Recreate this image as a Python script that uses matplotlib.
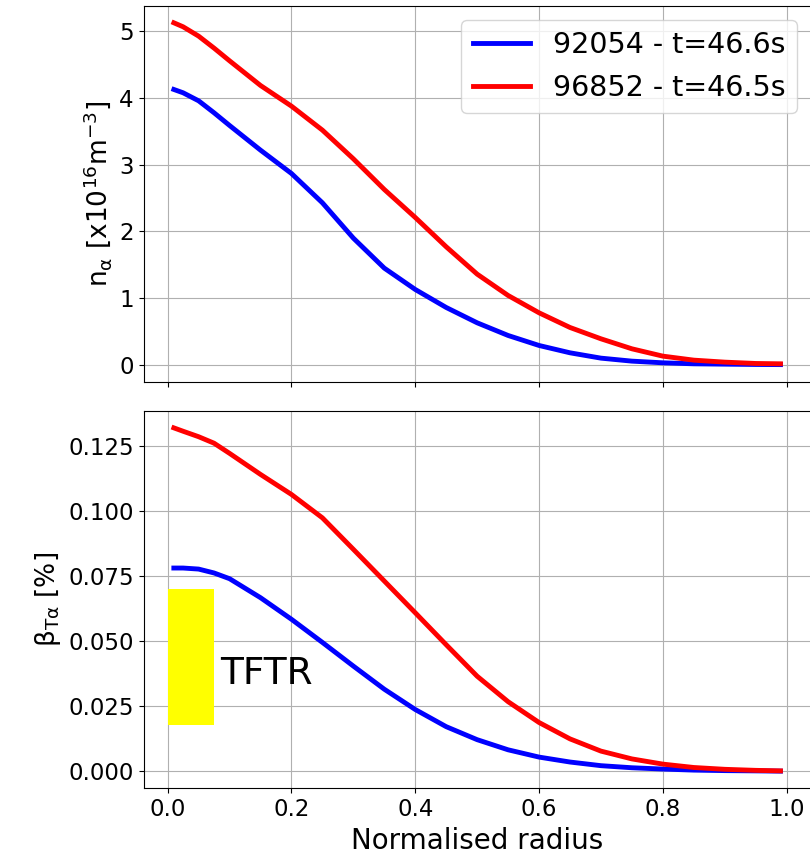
import matplotlib
matplotlib.use("Agg")
import matplotlib.pyplot as plt
from matplotlib.patches import Rectangle

# Normalised radius grid
radius = [0.01, 0.025, 0.05, 0.075, 0.1, 0.15, 0.2, 0.25, 0.3, 0.35, 0.4, 0.45,
          0.5, 0.55, 0.6, 0.65, 0.7, 0.75, 0.8, 0.85, 0.9, 0.95, 0.99]

# Alpha density [x10^16 m^-3]
n_alpha_92054 = [4.13, 4.08, 3.96, 3.78, 3.59, 3.22, 2.87, 2.43, 1.90, 1.45, 1.13, 0.86,
                 0.63, 0.44, 0.29, 0.18, 0.10, 0.055, 0.03, 0.015, 0.01, 0.005, 0.003]
n_alpha_96852 = [5.13, 5.07, 4.93, 4.75, 4.56, 4.19, 3.88, 3.52, 3.09, 2.63, 2.21, 1.77,
                 1.36, 1.04, 0.78, 0.56, 0.39, 0.24, 0.13, 0.07, 0.04, 0.02, 0.015]

# Toroidal alpha beta [%]
beta_92054 = [0.0782, 0.0782, 0.0778, 0.0763, 0.0741, 0.0668, 0.0585, 0.0496, 0.0405,
              0.0316, 0.0238, 0.0172, 0.0122, 0.0083, 0.0055, 0.0036, 0.0022, 0.0014,
              0.0009, 0.0005, 0.0003, 0.0002, 0.0001]
beta_96852 = [0.1321, 0.1308, 0.1287, 0.1262, 0.1223, 0.1142, 0.1065, 0.0975, 0.0854,
              0.0732, 0.0610, 0.0487, 0.0366, 0.0268, 0.0188, 0.0125, 0.0078, 0.0048,
              0.0028, 0.0015, 0.0008, 0.0004, 0.0002]

labels = ["92054 - t=46.6s", "96852 - t=46.5s"]
colors = ["blue", "red"]

# TFTR range
tftr_r = [0.0, 0.075]
tftr_beta = [0.018, 0.070]

beta_ticks = [0.0, 0.025, 0.05, 0.075, 0.1, 0.125]
r_ticks = [0.0, 0.2, 0.4, 0.6, 0.8, 1.0]

W, H = 810, 859
fig = plt.figure(figsize=(W / 100, H / 100), dpi=100)
left = 143.5 / W
width = 667.3 / W
ax1 = fig.add_axes([left, (H - 381.7) / H, width, 376.0 / H])
ax2 = fig.add_axes([left, (H - 788.3) / H, width, 377.6 / H], sharex=ax1)

ax1.plot(radius, n_alpha_92054, color=colors[0], lw=3.5, label=labels[0])
ax1.plot(radius, n_alpha_96852, color=colors[1], lw=3.5, label=labels[1])
ax2.plot(radius, beta_92054, color=colors[0], lw=3.5)
ax2.plot(radius, beta_96852, color=colors[1], lw=3.5)

rect = Rectangle((tftr_r[0], tftr_beta[0]), tftr_r[1] - tftr_r[0],
                 tftr_beta[1] - tftr_beta[0], facecolor="yellow", lw=0, zorder=3,
                 transform=ax2.transData)
ax2.add_artist(rect)
ax2.text(0.085, 0.0375, "TFTR", fontsize=27, va="center", ha="left")

for ax in (ax1, ax2):
    ax.grid(True)
    ax.tick_params(labelsize=16.5)

ax1.tick_params(labelbottom=False)
ax1.set_ylabel(r"n$_\mathregular{\alpha}$ [x10$^{16}$m$^{-3}$]", fontsize=19)
ax2.set_ylabel(r"$\mathregular{\beta_{T\alpha}}$ [%]", fontsize=19)
ax2.set_xlabel("Normalised radius", fontsize=20)
ax2.set_xticks(r_ticks)
ax2.set_yticks(beta_ticks)
ax2.set_yticklabels([f"{v:.3f}" for v in beta_ticks])

ax1.legend(loc="upper right", fontsize=20.5)

fig.savefig("out.png", dpi=100)
